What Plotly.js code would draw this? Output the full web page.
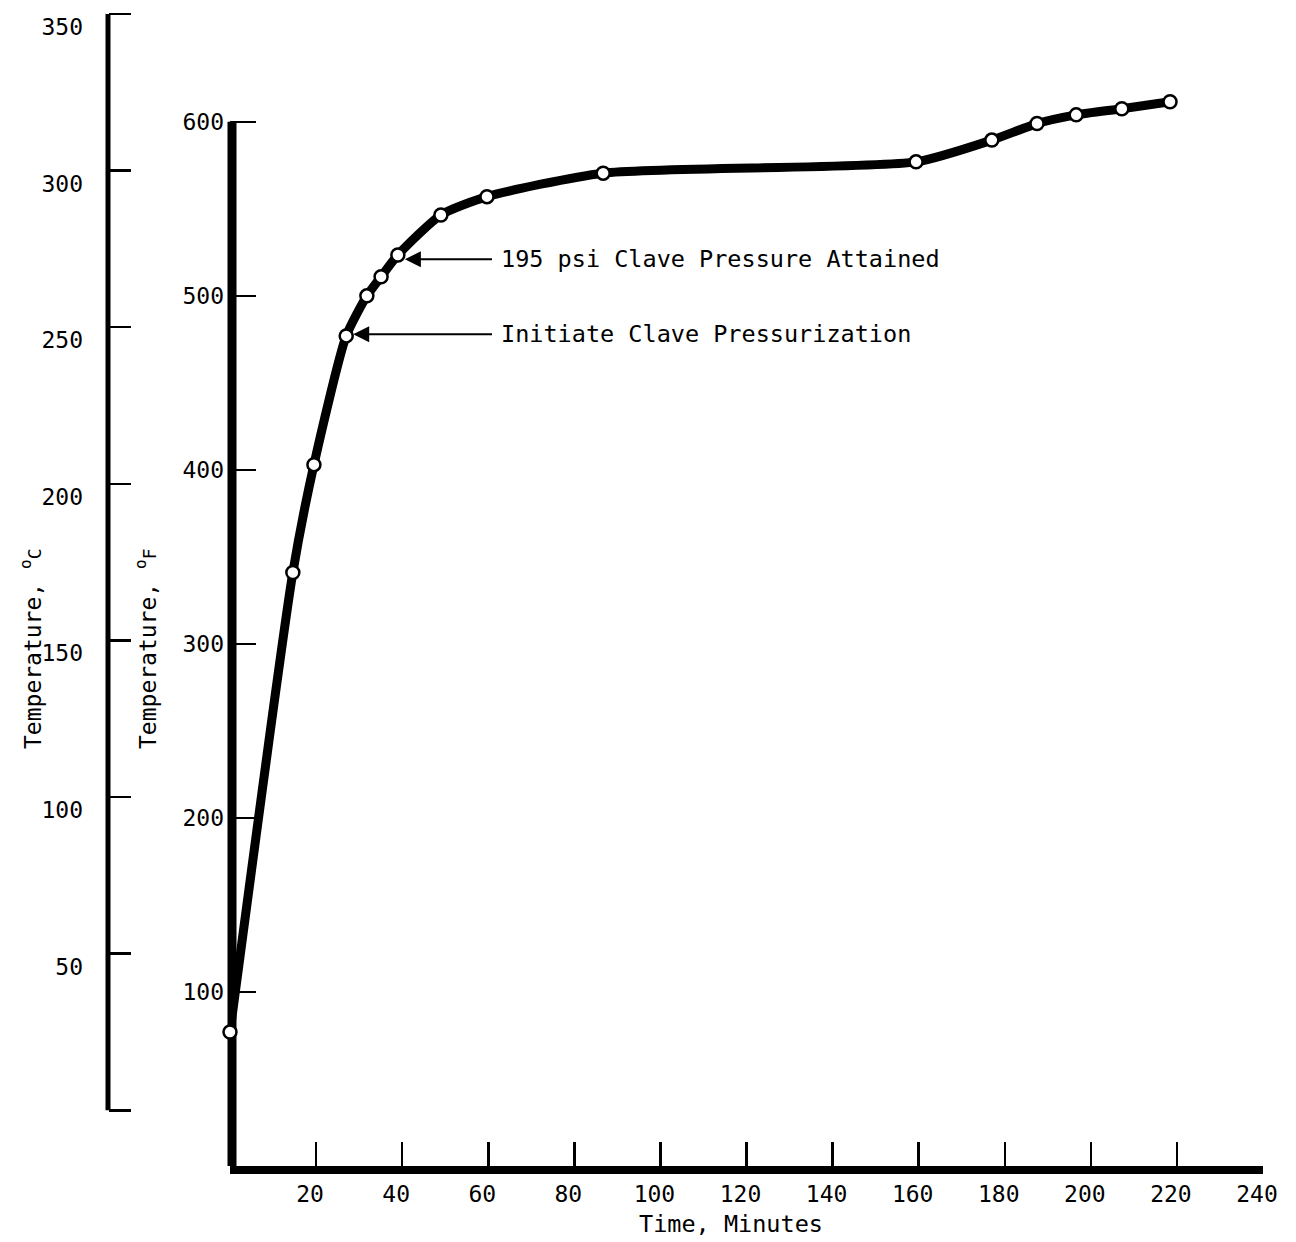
<!DOCTYPE html>
<html>
<head>
<meta charset="utf-8">
<script src="https://cdn.plot.ly/plotly-3.0.1.min.js"></script>
<style>html,body{margin:0;padding:0;background:#fff;}#chart{width:1296px;height:1242px;}</style>
</head>
<body>
<div id="chart"></div>
<script>
// ---- data ----
const timeMin = [0, 14.6, 19.5, 27.0, 31.8, 35.1, 39.0, 49.0, 59.7, 86.7, 159.4, 177.0, 187.5, 196.6, 207.2, 218.4];
const tempF   = [77, 341, 403, 477, 500, 511, 523.5, 546.5, 557, 570.5, 577, 589.5, 599, 604, 607.5, 611.5];

const xTickVals = [20, 40, 60, 80, 100, 120, 140, 160, 180, 200, 220, 240];
const xTickText = ['20', '40', '60', '80', '100', '120', '140', '160', '180', '200', '220', '240'];
const fTickVals = [100, 200, 300, 400, 500, 600];
const fTickText = ['100', '200', '300', '400', '500', '600'];
const cTickVals = [0, 50, 100, 150, 200, 250, 300, 350];
const cTickText = ['', '50', '100', '150', '200', '250', '300', '350'];

const noteLabels = ['195 psi Clave Pressure Attained', 'Initiate Clave Pressurization'];
const notePointIdx = [6, 3];
const noteTextF = [521, 478];

const xTitle = 'Time, Minutes';
const fTitle = 'Temperature, <sup>o</sup><span style="font-size:18px">F</span>';
const cTitle = 'Temperature, <sup>o</sup><span style="font-size:18px">C</span>';

// ---- figure ----
const W = 1296, H = 1242;
const FONT = 'DejaVu Sans Mono, monospace';
const fRange = [0, 670];
const cRange = [(fRange[0] - 32) / 1.8, (fRange[1] - 32) / 1.8];
const X0 = 230 / W, X1 = 1263 / W;

const trace = {
  x: timeMin, y: tempF, type: 'scatter', mode: 'lines+markers', cliponaxis: false,
  line: {color: '#000', width: 9, shape: 'spline', smoothing: 0.6},
  marker: {symbol: 'circle', size: 13, color: '#fff', line: {color: '#000', width: 2.5}},
  xaxis: 'x', yaxis: 'y', hoverinfo: 'skip', showlegend: false
};
// invisible trace to activate the Celsius axis
const traceC = {x: [0], y: [0], xaxis: 'x', yaxis: 'y2', mode: 'markers', marker: {opacity: 0}, showlegend: false, hoverinfo: 'skip'};

const annotations = noteLabels.map((t, i) => ({
  x: timeMin[notePointIdx[i]], y: noteTextF[i], xref: 'x', yref: 'y',
  ax: (492 - 230) / 4.304, ay: noteTextF[i], axref: 'x', ayref: 'y',
  text: t, xanchor: 'left', yanchor: 'middle', showarrow: true, borderpad: 8,
  arrowhead: 2, arrowsize: 1.6, arrowwidth: 2, arrowcolor: '#000', standoff: 7,
  font: {family: FONT, size: 23.5, color: '#000'}
}));
annotations.push({
  xref: 'paper', yref: 'paper', x: 31 / W, y: 1 - 649 / H, text: cTitle, textangle: -90,
  showarrow: false, xanchor: 'center', yanchor: 'middle', font: {family: FONT, size: 23, color: '#000'}
});
annotations.push({
  xref: 'paper', yref: 'paper', x: 146 / W, y: 1 - 649 / H, text: fTitle, textangle: -90,
  showarrow: false, xanchor: 'center', yanchor: 'middle', font: {family: FONT, size: 23, color: '#000'}
});
annotations.push({
  xref: 'paper', yref: 'paper', x: 731 / W, y: 1 - 1224 / H, text: xTitle,
  showarrow: false, xanchor: 'center', yanchor: 'middle', font: {family: FONT, size: 23.5, color: '#000'}
});

const layout = {
  width: W, height: H, margin: {l: 0, r: 0, t: 0, b: 0},
  paper_bgcolor: '#fff', plot_bgcolor: 'rgba(0,0,0,0)',
  font: {family: FONT, size: 23, color: '#000'},
  showlegend: false,
  xaxis: {
    domain: [X0, X1], range: [0, 240], anchor: 'y',
    showgrid: false, zeroline: false, showline: true, linecolor: '#000', linewidth: 8,
    ticks: 'inside', ticklen: 24, tickwidth: 2.5, tickcolor: '#000',
    tickmode: 'array', tickvals: xTickVals, ticktext: xTickText,
    tickfont: {family: FONT, size: 23, color: '#000'}, ticklabelshift: -6, ticklabelstandoff: 0,
    ticklabeloverflow: 'allow'
  },
  yaxis: {
    domain: [76 / H, 1], range: fRange, anchor: 'x',
    showgrid: false, zeroline: false, showline: false,
    ticks: 'inside', ticklen: 26, tickwidth: 2.5, tickcolor: '#000',
    tickmode: 'array', tickvals: fTickVals, ticktext: fTickText,
    tickfont: {family: FONT, size: 23, color: '#000'}, ticklabelstandoff: 5
  },
  yaxis2: {
    overlaying: 'y', anchor: 'free', position: 108 / W, side: 'left', range: cRange,
    showgrid: false, zeroline: false, showline: false,
    ticks: 'inside', ticklen: 22, tickwidth: 2.5, tickcolor: '#000',
    tickmode: 'array', tickvals: cTickVals, ticktext: cTickText,
    tickfont: {family: FONT, size: 23, color: '#000'}, ticklabelshift: 13, ticklabelstandoff: 25,
    ticklabeloverflow: 'allow'
  },
  shapes: [
    {type: 'line', xref: 'paper', yref: 'y', x0: 232 / W, x1: 232 / W, y0: 0, y1: 600, layer: 'below',
     line: {color: '#000', width: 9}},
    {type: 'line', xref: 'paper', yref: 'y2', x0: 108 / W, x1: 108 / W, y0: 0, y1: 350, layer: 'below',
     line: {color: '#000', width: 5}}
  ],
  annotations: annotations
};

Plotly.newPlot('chart', [trace, traceC], layout, {displayModeBar: false, staticPlot: true});
</script>
</body>
</html>
